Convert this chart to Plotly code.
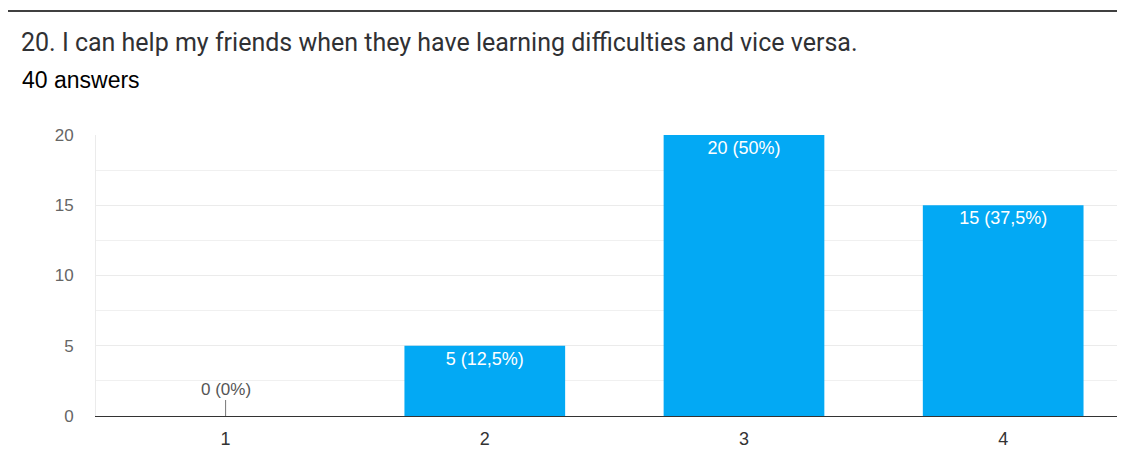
import plotly.graph_objects as go

categories = ["1", "2", "3", "4"]
counts = [0, 5, 20, 15]
labels = ["0 (0%)", "5 (12,5%)", "20 (50%)", "15 (37,5%)"]
y_ticks = [0, 5, 10, 15, 20]

title_text = "20. I can help my friends when they have learning difficulties and vice versa."
subtitle_text = "40 answers"

BAR = "#03a9f4"
FONT = "Liberation Sans, Arial"

bar_text = [t if v > 0 else "" for t, v in zip(labels, counts)]

fig = go.Figure()
fig.add_trace(go.Bar(
    x=categories, y=counts, text=bar_text,
    textposition="inside", insidetextanchor="end",
    textfont=dict(color="white", size=18, family=FONT),
    marker=dict(color=BAR, line=dict(width=0)),
    width=0.62,
))

for i, (v, t) in enumerate(zip(counts, labels)):
    if v == 0:
        fig.add_annotation(x=i, y=v, xref="x", yref="y", text=t,
                           showarrow=True, arrowhead=0, arrowwidth=1,
                           arrowcolor="#777", ax=0, ay=-27,
                           font=dict(size=17, color="#555", family=FONT))

OFF = 8  # page body offset
W, H = 1117, 444
L, R, T, B = 96 - OFF, 0, 135 - OFF, H + OFF - 416
pw, ph = W - L - R, H - T - B

def px_x(px):
    return (px - OFF - L) / pw

def px_y(py):
    return (H - B - (py - OFF)) / ph

fig.update_layout(
    width=W, height=H,
    margin=dict(l=L, r=R, t=T, b=B),
    paper_bgcolor="white", plot_bgcolor="white",
    showlegend=False,
    font=dict(family=FONT, color="#444"),
    xaxis=dict(range=[-0.5, 3.47], showgrid=False, showline=True,
               linecolor="#333", linewidth=1, automargin=False,
               tickfont=dict(size=18, color="#333"), ticks="", ticklabelstandoff=6,
               fixedrange=True),
    yaxis=dict(range=[0, 20], tickvals=y_ticks, showgrid=True, gridcolor="#ebebeb",
               minor=dict(dtick=2.5, showgrid=True, gridcolor="#f0f0f0"),
               showline=True, linecolor="#ebebeb", zeroline=False, automargin=False,
               tickfont=dict(size=17, color="#666"), ticks="", ticklabelstandoff=18),
)

fig.add_annotation(xref="paper", yref="paper", x=px_x(19), y=px_y(43), xanchor="left", yanchor="middle",
                   text=title_text, showarrow=False,
                   font=dict(family="Roboto", size=25, color="#303134"))
fig.add_annotation(xref="paper", yref="paper", x=px_x(20), y=px_y(80), xanchor="left", yanchor="middle",
                   text=subtitle_text, showarrow=False,
                   font=dict(family=FONT, size=23, color="#000"))

# outer frame
fig.add_shape(type="line", xref="paper", yref="paper", x0=px_x(6), x1=px_x(1140), y0=px_y(11), y1=px_y(11),
              line=dict(color="#000", width=1.5))
fig.add_shape(type="line", xref="paper", yref="paper", x0=px_x(6), x1=px_x(6), y0=px_y(11), y1=px_y(470),
              line=dict(color="#000", width=1.5))

fig.write_html("out.html")
